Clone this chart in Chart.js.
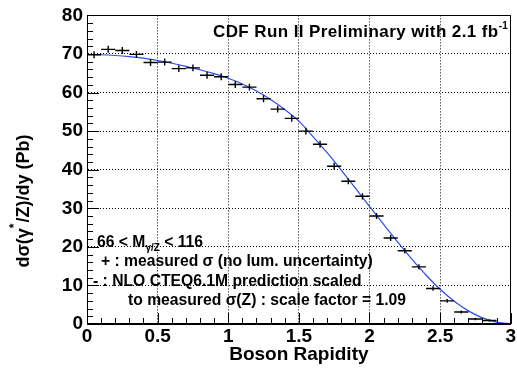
<!DOCTYPE html>
<html>
<head>
<meta charset="utf-8">
<script src="https://cdn.jsdelivr.net/npm/chart.js@4.4.1/dist/chart.umd.min.js"></script>
<style>
html, body { margin: 0; padding: 0; background: #fff; }
</style>
</head>
<body>
<canvas id="chartRap" width="517" height="368"></canvas>
<script>
// measured dsigma/dy, bins of 0.1 in boson rapidity
const rapidity = [0.05, 0.15, 0.25, 0.35, 0.45, 0.55, 0.65, 0.75, 0.85, 0.95,
                  1.05, 1.15, 1.25, 1.35, 1.45, 1.55, 1.65, 1.75, 1.85, 1.95,
                  2.05, 2.15, 2.25, 2.35, 2.45, 2.55, 2.65, 2.75, 2.85];
const measured = [69.8, 71.2, 70.9, 69.9, 67.8, 67.9, 66.2, 66.4, 64.5, 64.1,
                  62.1, 61.4, 58.4, 55.7, 53.3, 50.0, 46.6, 40.9, 37.0, 33.1,
                  28.0, 22.3, 19.0, 14.8, 9.2, 6.0, 3.1, 1.3, 0.9];
const measErr  = [0.9, 0.9, 0.9, 0.9, 0.9, 0.9, 0.9, 0.9, 0.9, 0.9,
                  0.9, 0.9, 0.9, 0.9, 0.9, 0.9, 0.9, 0.9, 0.8, 0.8,
                  0.8, 0.8, 0.7, 0.7, 0.6, 0.5, 0.4, 0.3, 0.3];
const binHalf = 0.05;

// NLO CTEQ6.1M prediction (scaled)
const nloY     = [0, 0.1, 0.2, 0.3, 0.4, 0.5, 0.6, 0.7, 0.8, 0.9, 1.0,
                  1.1, 1.2, 1.3, 1.4, 1.5, 1.6, 1.7, 1.8, 1.9, 2.0,
                  2.1, 2.2, 2.3, 2.4, 2.5, 2.6, 2.7, 2.8, 2.9, 3.0];
const nloXsec  = [69.9, 69.8, 69.6, 69.3, 68.9, 68.3, 67.6, 66.8, 65.9, 64.9, 63.7,
                  62.2, 60.4, 58.2, 55.6, 52.6, 48.6, 44.4, 39.9, 35.2, 30.5,
                  25.8, 21.2, 16.8, 12.7, 9.0, 5.9, 3.4, 1.6, 0.5, 0];

const xTickLabels = ['0', '0.5', '1', '1.5', '2', '2.5', '3'];
const yTickLabels = ['0', '10', '20', '30', '40', '50', '60', '70', '80'];

const FONT = "'Liberation Sans', Arial, Helvetica, sans-serif";

function drawRich(ctx, parts, x, y, spacing) {
    let cx = x;
    ctx.letterSpacing = (spacing || 0) + 'px';
    parts.forEach(p => {
        ctx.font = 'bold ' + p.size + 'px ' + FONT;
        ctx.fillText(p.t, cx, y + (p.dy || 0));
        cx += ctx.measureText(p.t).width + (p.gap || 0);
    });
    ctx.letterSpacing = '0px';
}
function richWidth(ctx, parts) {
    let w = 0;
    parts.forEach(p => {
        ctx.font = 'bold ' + p.size + 'px ' + FONT;
        w += ctx.measureText(p.t).width + (p.gap || 0);
    });
    return w;
}

const rootStyle = {
    id: 'rootStyle',
    afterDatasetsDraw(chart) {
        const { ctx, chartArea: a, scales: { x, y } } = chart;
        ctx.save();
        // measured points as error crosses
        ctx.strokeStyle = '#000';
        ctx.lineWidth = 1.4;
        rapidity.forEach((r, i) => {
            const px = x.getPixelForValue(r);
            const py = y.getPixelForValue(measured[i]);
            ctx.beginPath();
            ctx.moveTo(x.getPixelForValue(r - binHalf), py);
            ctx.lineTo(x.getPixelForValue(r + binHalf), py);
            ctx.moveTo(px, y.getPixelForValue(measured[i] - measErr[i]));
            ctx.lineTo(px, y.getPixelForValue(measured[i] + measErr[i]));
            ctx.stroke();
        });

        // inward ticks like ROOT
        ctx.lineWidth = 1;
        ctx.beginPath();
        for (let k = 0; k <= 30; k++) {
            const px = Math.round(x.getPixelForValue(k / 10)) + 0.5;
            const len = (k % 5 === 0) ? 11 : 6;
            ctx.moveTo(px, a.bottom);
            ctx.lineTo(px, a.bottom - len);
        }
        for (let v = 0; v <= 80; v += 2) {
            const py = Math.round(y.getPixelForValue(v)) + 0.5;
            const len = (v % 10 === 0) ? 12 : 6;
            ctx.moveTo(a.left, py);
            ctx.lineTo(a.left + len, py);
        }
        ctx.stroke();

        // frame
        ctx.strokeRect(Math.round(a.left) + 0.5, Math.round(a.top) + 0.5,
                       Math.round(a.width) - 1, Math.round(a.height) - 1);
        ctx.restore();
    },
    afterDraw(chart) {
        const { ctx } = chart;
        ctx.save();
        ctx.fillStyle = '#000';
        ctx.textBaseline = 'middle';
        ctx.textAlign = 'left';

        // header
        drawRich(ctx, [
            { t: 'CDF Run II Preliminary with 2.1 fb', size: 17 },
            { t: '-1', size: 10, dy: -6 }
        ], 213, 32, 0.4);

        // legend notes
        drawRich(ctx, [
            { t: '66 < M', size: 15.7 },
            { t: 'γ/Z', size: 10, dy: 5 },
            { t: ' < 116', size: 15.7 }
        ], 97, 243);
        drawRich(ctx, [{ t: '+ : measured σ (no lum. uncertainty)', size: 15.7 }], 101, 262);
        drawRich(ctx, [{ t: '- : NLO CTEQ6.1M prediction scaled', size: 15.7 }], 93, 282);
        drawRich(ctx, [{ t: 'to measured σ(Z) : scale factor = 1.09', size: 15.7 }], 128, 301);

        // y axis title, rotated
        const ytitle = [
            { t: 'dσ(γ', size: 18 },
            { t: '*', size: 12, dy: -9, gap: 1 },
            { t: '/Z)/dy (Pb)', size: 18 }
        ];
        ctx.translate(24, 201);
        ctx.rotate(-Math.PI / 2);
        drawRich(ctx, ytitle, -richWidth(ctx, ytitle) / 2, 0);
        ctx.restore();
    }
};

const ctx = document.getElementById('chartRap').getContext('2d');
const chart = new Chart(ctx, {
    type: 'scatter',
    data: {
        datasets: [{
            label: 'NLO CTEQ6.1M',
            data: nloY.map((v, i) => ({ x: v, y: nloXsec[i] })),
            showLine: true,
            borderColor: '#2a4cf0',
            borderWidth: 1.2,
            pointRadius: 0,
            cubicInterpolationMode: 'monotone'
        }, {
            label: 'measured',
            data: rapidity.map((v, i) => ({ x: v, y: measured[i] })),
            showLine: false,
            pointRadius: 0
        }]
    },
    options: {
        responsive: false,
        animation: false,
        events: [],
        layout: { padding: { top: 15, right: 6, left: 0, bottom: 0 } },
        plugins: { legend: { display: false }, tooltip: { enabled: false } },
        scales: {
            x: {
                type: 'linear',
                min: 0, max: 3,
                afterFit: s => { s.height = 44; },
                afterBuildTicks: s => { s.ticks = xTickLabels.map(t => ({ value: parseFloat(t) })); },
                ticks: {
                    callback: (v, i) => xTickLabels[i],
                    color: '#000',
                    padding: 1,
                    maxRotation: 0,
                    font: { family: FONT, size: 19, weight: 'bold' }
                },
                grid: { color: '#000', lineWidth: 1, drawTicks: false },
                border: { display: true, color: '#000', width: 1, dash: [1, 2] },
                title: {
                    display: true,
                    text: 'Boson Rapidity',
                    color: '#000',
                    padding: { top: 0, bottom: 2 },
                    font: { family: FONT, size: 19, weight: 'bold' }
                }
            },
            y: {
                type: 'linear',
                min: 0, max: 80,
                afterFit: s => { s.width = 87; },
                afterBuildTicks: s => { s.ticks = yTickLabels.map(t => ({ value: parseFloat(t) })); },
                ticks: {
                    callback: (v, i) => yTickLabels[i],
                    color: '#000',
                    padding: 4,
                    font: { family: FONT, size: 19, weight: 'bold' }
                },
                grid: { color: '#000', lineWidth: 1, drawTicks: false },
                border: { display: true, color: '#000', width: 1, dash: [1, 2] }
            }
        }
    },
    plugins: [rootStyle]
});
</script>
</body>
</html>
